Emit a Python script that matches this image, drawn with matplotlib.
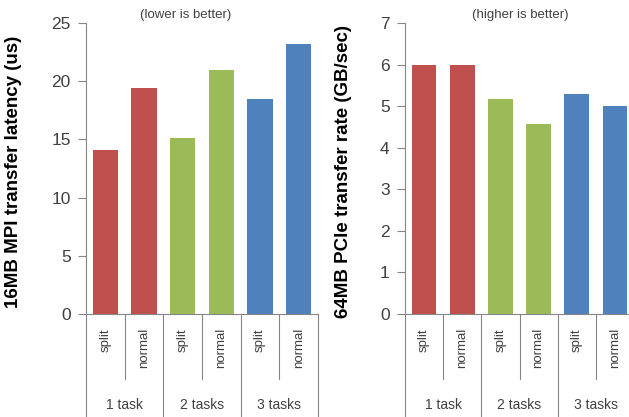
import numpy as np
import matplotlib.pyplot as plt

plt.rcParams['font.family'] = ['Liberation Sans', 'DejaVu Sans']

groups = ["1 task", "2 tasks", "3 tasks"]
modes = ["split", "normal"]
latency = [14.1, 19.4, 15.1, 21.0, 18.5, 23.2]
rate = [6.0, 6.0, 5.18, 4.58, 5.3, 5.01]
colors = ["#C0504D", "#C0504D", "#9BBB59", "#9BBB59", "#4F81BD", "#4F81BD"]

axis_grey = "#868686"
text_grey = "#404040"

fig = plt.figure(figsize=(6.29, 4.17), dpi=100)
ax1 = fig.add_axes([86/629, 1-314/417, 232/629, 291/417])
ax2 = fig.add_axes([405/629, 1-314/417, 229/629, 291/417])


def draw(ax, vals, ymax, ylabel, note, note_x, label_x):
    x = np.arange(len(vals))
    ax.bar(x, vals, width=0.65, color=colors, zorder=2)
    ax.set_xlim(-0.5, len(vals) - 0.5)
    ax.set_ylim(0, ymax)
    ax.set_xticks([])
    for s in ["top", "right"]:
        ax.spines[s].set_visible(False)
    for s in ["left", "bottom"]:
        ax.spines[s].set_color(axis_grey)
    ax.tick_params(axis="y", colors=axis_grey, labelcolor=text_grey,
                   labelsize=12.5, length=6, direction="out", pad=5)
    ax.set_ylabel(ylabel, fontsize=13.5, fontweight="bold")
    ax.yaxis.set_label_coords(label_x, 0.49)
    ax.text(note_x, 1.026, note, transform=ax.transAxes, ha="center",
            va="center", fontsize=9.5, color=text_grey)

    # category axis: mode labels and separators
    tr = ax.get_xaxis_transform()
    for i in range(len(vals)):
        ax.text(i, -0.048, modes[i % 2], transform=tr, rotation=90,
                ha="center", va="top", fontsize=9.5, color=text_grey)
    for i in range(len(vals) + 1):
        bottom = -0.40 if i % 2 == 0 else -0.223
        ax.plot([i - 0.5, i - 0.5], [0, bottom], transform=tr,
                color=axis_grey, lw=0.8, clip_on=False)
    for g, name in enumerate(groups):
        ax.text(2 * g + 0.5, -0.313, name, transform=tr, ha="center",
                va="center", fontsize=10, color=text_grey)


draw(ax1, latency, 25, "16MB MPI transfer latency (us)", "(lower is better)",
     0.431, -0.276)
draw(ax2, rate, 7, "64MB PCIe transfer rate (GB/sec)", "(higher is better)",
     0.502, -0.231)
ax1.set_yticks(np.arange(0, 26, 5))
ax2.set_yticks(np.arange(0, 8, 1))

plt.savefig("out.png", dpi=100)
